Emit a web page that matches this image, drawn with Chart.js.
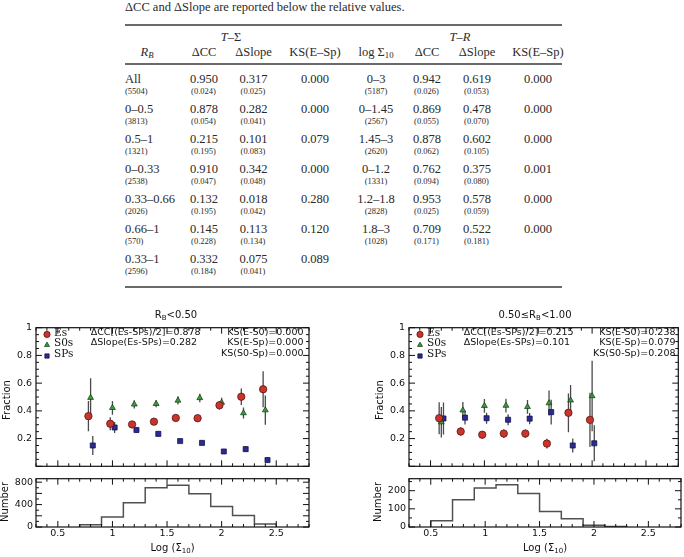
<!DOCTYPE html>
<html>
<head>
<meta charset="utf-8">
<script src="https://cdn.jsdelivr.net/npm/chart.js@4.4.1/dist/chart.umd.min.js"></script>
<style>
  body { margin: 0; width: 684px; height: 557px; overflow: hidden; position: relative; background: #fff; color: #2a2a2a; font-family: 'Liberation Serif', serif; }
  .t { position: absolute; white-space: nowrap; line-height: 1; }
  .c { transform: translate(-50%, -50%); }
  .l { transform: translate(0, -50%); }
  .r { transform: translate(-100%, -50%); }
  .rot { transform: translate(-50%, -50%) rotate(-90deg); }
  .main { font-size: 12.5px; }
  .sub { font-size: 8.5px; }
  .fig { font-family: 'DejaVu Sans', sans-serif; color: #111; }
  .leg { font-family: 'DejaVu Serif', serif; color: #111; font-size: 10.5px; }
  sub { font-size: 70%; vertical-align: -0.25em; line-height: 0; }
  .rule { position: absolute; left: 125px; width: 437px; height: 1.6px; background: #6a6a6a; }
  canvas { position: absolute; }
</style>
</head>
<body>
<script>
// ---- table data ----
const tableGroups = ['<i>T</i>–Σ', '<i>T</i>–<i>R</i>'];
const tableHeads = ['<i>R<sub>B</sub></i>', 'ΔCC', 'ΔSlope', 'KS(E–Sp)', 'log Σ<sub>10</sub>', 'ΔCC', 'ΔSlope', 'KS(E–Sp)'];
const rbBins = ['All', '0–0.5', '0.5–1', '0–0.33', '0.33–0.66', '0.66–1', '0.33–1'];
const rbCounts = ['(5504)', '(3813)', '(1321)', '(2538)', '(2026)', '(570)', '(2596)'];
const sigCC = ['0.950', '0.878', '0.215', '0.910', '0.132', '0.145', '0.332'];
const sigCCErr = ['(0.024)', '(0.054)', '(0.195)', '(0.047)', '(0.195)', '(0.228)', '(0.184)'];
const sigSlope = ['0.317', '0.282', '0.101', '0.342', '0.018', '0.113', '0.075'];
const sigSlopeErr = ['(0.025)', '(0.041)', '(0.083)', '(0.048)', '(0.042)', '(0.134)', '(0.041)'];
const sigKS = ['0.000', '0.000', '0.079', '0.000', '0.280', '0.120', '0.089'];
const densBins = ['0–3', '0–1.45', '1.45–3', '0–1.2', '1.2–1.8', '1.8–3'];
const densCounts = ['(5187)', '(2567)', '(2620)', '(1331)', '(2828)', '(1028)'];
const rCC = ['0.942', '0.869', '0.878', '0.762', '0.953', '0.709'];
const rCCErr = ['(0.026)', '(0.055)', '(0.062)', '(0.094)', '(0.025)', '(0.171)'];
const rSlope = ['0.619', '0.478', '0.602', '0.375', '0.578', '0.522'];
const rSlopeErr = ['(0.053)', '(0.070)', '(0.105)', '(0.080)', '(0.059)', '(0.181)'];
const rKS = ['0.000', '0.000', '0.000', '0.001', '0.000', '0.000'];

// ---- figure data: R_B < 0.50 ----
const esXA = [0.78, 0.98, 1.18, 1.38, 1.58, 1.78, 1.98, 2.18, 2.38];
const esYA = [0.362, 0.307, 0.302, 0.322, 0.349, 0.347, 0.440, 0.502, 0.556];
const esEA = [0.110, 0.047, 0.025, 0.020, 0.020, 0.025, 0.030, 0.060, 0.130];
const s0XA = [0.80, 1.00, 1.20, 1.40, 1.60, 1.80, 2.00, 2.20, 2.40];
const s0YA = [0.495, 0.422, 0.447, 0.451, 0.475, 0.493, 0.460, 0.384, 0.405];
const s0EA = [0.140, 0.050, 0.030, 0.025, 0.030, 0.030, 0.035, 0.040, 0.105];
const spXA = [0.82, 1.02, 1.22, 1.42, 1.62, 1.82, 2.02, 2.22, 2.42];
const spYA = [0.150, 0.280, 0.262, 0.234, 0.182, 0.169, 0.107, 0.124, 0.045];
const spEA = [0.068, 0.040, 0.020, 0.015, 0.012, 0.012, 0.012, 0.020, 0.020];
const histEdgesA = [0.7, 0.9, 1.1, 1.3, 1.5, 1.7, 1.9, 2.1, 2.3, 2.5];
const histCountsA = [40, 180, 435, 700, 745, 595, 365, 205, 55];

// ---- figure data: 0.50 <= R_B < 1.00 ----
const esXB = [0.58, 0.78, 0.98, 1.18, 1.38, 1.58, 1.78, 1.98];
const esYB = [0.347, 0.251, 0.228, 0.236, 0.236, 0.164, 0.386, 0.335];
const esEB = [0.115, 0.030, 0.025, 0.030, 0.030, 0.035, 0.140, 0.195];
const s0XB = [0.60, 0.80, 1.00, 1.20, 1.40, 1.60, 1.80, 2.00];
const s0YB = [0.318, 0.404, 0.436, 0.438, 0.429, 0.456, 0.476, 0.507];
const s0EB = [0.110, 0.060, 0.050, 0.050, 0.050, 0.090, 0.110, 0.255];
const spXB = [0.62, 0.82, 1.02, 1.22, 1.42, 1.62, 1.82, 2.02];
const spYB = [0.345, 0.351, 0.347, 0.336, 0.344, 0.391, 0.150, 0.166];
const spEB = [0.115, 0.050, 0.040, 0.040, 0.040, 0.090, 0.050, 0.130];
const histEdgesB = [0.5, 0.7, 0.9, 1.1, 1.3, 1.5, 1.7, 1.9, 2.1, 2.3];
const histCountsB = [35, 150, 215, 232, 185, 85, 45, 10, 3];

const fracTicks = [0.2, 0.4, 0.6, 0.8, 1];
const logTicks = [0.5, 1, 1.5, 2, 2.5];
const numTicksA = [0, 200, 400, 600, 800];
const numTicksB = [0, 100, 200];

// ---- helpers ----
function put(html, x, y, cls) {
  const d = document.createElement('div');
  d.className = 't ' + cls;
  d.style.left = x + 'px';
  d.style.top = y + 'px';
  d.innerHTML = html;
  document.body.appendChild(d);
  return d;
}
function rule(y) {
  const d = document.createElement('div');
  d.className = 'rule';
  d.style.top = (y - 0.8) + 'px';
  document.body.appendChild(d);
}

// ---- table ----
put('ΔCC and ΔSlope are reported below the relative values.', 125, 7, 'l main');
rule(25); rule(64); rule(287);
const colX = [147, 204, 253.5, 315, 376, 427, 477, 538];
put(tableGroups[0], 231, 37, 'c main');
put(tableGroups[1], 460, 37, 'c main');
tableHeads.forEach((h, i) => put(h, colX[i], 52, 'c main'));
rbBins.forEach((b, i) => {
  const y = 79 + 30 * i;
  put(b, 125, y, 'l main');
  put(rbCounts[i], 125, y + 12, 'l sub');
  put(sigCC[i], colX[1], y, 'c main');
  put(sigCCErr[i], colX[1] - 0.5, y + 12, 'c sub');
  put(sigSlope[i], colX[2], y, 'c main');
  put(sigSlopeErr[i], colX[2] - 0.5, y + 12, 'c sub');
  put(sigKS[i], colX[3], y, 'c main');
  if (i < densBins.length) {
    put(densBins[i], colX[4], y, 'c main');
    put(densCounts[i], colX[4], y + 12, 'c sub');
    put(rCC[i], colX[5], y, 'c main');
    put(rCCErr[i], colX[5] - 0.5, y + 12, 'c sub');
    put(rSlope[i], colX[6], y, 'c main');
    put(rSlopeErr[i], colX[6] - 0.5, y + 12, 'c sub');
    put(rKS[i], colX[7], y, 'c main');
  }
});

// ---- plugin: frame, inside ticks, error bars, legend symbols ----
const frameTicks = {
  id: 'frameTicks',
  beforeDatasetsDraw(chart) {
    const ctx = chart.ctx, ys = chart.scales.y;
    ctx.save();
    ctx.strokeStyle = '#4a4a4a';
    ctx.lineWidth = 1.3;
    ctx.beginPath();
    chart.data.datasets.forEach((ds, i) => {
      if (!ds.errs) return;
      chart.getDatasetMeta(i).data.forEach((pt, j) => {
        const v = ds.data[j].y, e = ds.errs[j];
        ctx.moveTo(pt.x, ys.getPixelForValue(v + e));
        ctx.lineTo(pt.x, ys.getPixelForValue(v - e));
      });
    });
    ctx.stroke();
    ctx.restore();
  },
  afterDraw(chart, args, o) {
    const ctx = chart.ctx, a = chart.chartArea, xs = chart.scales.x, ys = chart.scales.y;
    ctx.save();
    ctx.strokeStyle = '#111';
    ctx.lineWidth = 1.2;
    ctx.strokeRect(a.left, a.top, a.right - a.left, a.bottom - a.top);
    ctx.lineWidth = 1;
    ctx.beginPath();
    const isMajor = (v, m) => Math.abs(v / m - Math.round(v / m)) < 1e-6;
    for (let n = Math.ceil(xs.min / o.xMinor - 1e-6); n * o.xMinor <= xs.max + 1e-9; n++) {
      const v = n * o.xMinor, px = xs.getPixelForValue(v);
      const len = isMajor(v, o.xMajor) ? 6 : 3;
      ctx.moveTo(px, a.bottom); ctx.lineTo(px, a.bottom - len);
      ctx.moveTo(px, a.top); ctx.lineTo(px, a.top + len);
    }
    for (let n = Math.ceil(ys.min / o.yMinor - 1e-6); n * o.yMinor <= ys.max + 1e-9; n++) {
      const v = n * o.yMinor, py = ys.getPixelForValue(v);
      const len = isMajor(v, o.yMajor) ? 6 : 3;
      ctx.moveTo(a.left, py); ctx.lineTo(a.left + len, py);
      ctx.moveTo(a.right, py); ctx.lineTo(a.right - len, py);
    }
    ctx.stroke();
    if (o.legend) {
      const rows = [6.7, 17.3, 28.3];
      chart.data.datasets.forEach((ds, i) => {
        ctx.fillStyle = ds.backgroundColor;
        ctx.strokeStyle = ds.borderColor;
        ctx.lineWidth = ds.borderWidth;
        Chart.helpers.drawPoint(ctx, {
          pointStyle: ds.pointStyle, radius: ds.pointRadius * 0.85, rotation: 0, borderWidth: ds.borderWidth
        }, a.left + 11, a.top + rows[i]);
      });
    }
    ctx.restore();
  }
};

const fontTick = { family: 'DejaVu Sans', size: 9.5 };

function scatterChart(cx, cy, cw, ch, wy, pr, pt, es, s0, sp) {
  const cv = document.createElement('canvas');
  cv.width = cw; cv.height = ch;
  cv.style.left = cx + 'px'; cv.style.top = cy + 'px';
  document.body.appendChild(cv);
  const pts = (xs, ys) => xs.map((x, i) => ({ x: x, y: ys[i] }));
  return new Chart(cv, {
    type: 'scatter',
    data: {
      datasets: [
        { label: 'Es', data: pts(es[0], es[1]), errs: es[2], pointStyle: 'circle', pointRadius: 3.7,
          backgroundColor: '#c9352d', borderColor: '#4a0c08', borderWidth: 0.7 },
        { label: 'S0s', data: pts(s0[0], s0[1]), errs: s0[2], pointStyle: 'triangle', pointRadius: 3.4,
          backgroundColor: '#3b9a3b', borderColor: '#0f3a0f', borderWidth: 0.7 },
        { label: 'SPs', data: pts(sp[0], sp[1]), errs: sp[2], pointStyle: 'rect', pointRadius: 3.6,
          backgroundColor: '#2b2b92', borderColor: '#0c0c40', borderWidth: 0.7 }
      ]
    },
    options: {
      responsive: false, animation: false, devicePixelRatio: 1,
      layout: { padding: { left: 0, right: pr, top: pt, bottom: 0 } },
      plugins: {
        legend: { display: false }, tooltip: { enabled: false },
        frameTicks: { xMinor: 0.1, xMajor: 0.5, yMinor: 0.05, yMajor: 0.2, legend: true }
      },
      scales: {
        x: { type: 'linear', min: 0.3, max: 2.8, display: false },
        y: {
          type: 'linear', min: 0, max: 1,
          grid: { display: false, drawTicks: false }, border: { display: false },
          ticks: { font: fontTick, color: '#111', padding: 4, callback: v => v === 1 ? '1' : v.toFixed(1) },
          afterBuildTicks: s => { s.ticks = fracTicks.map(v => ({ value: v })); },
          afterFit: s => { s.width = wy; }
        }
      }
    },
    plugins: [frameTicks]
  });
}

function histChart(cx, cy, cw, ch, wy, pr, pt, hx, edges, counts, yMax, yTicks, yMinor, yMajor) {
  const cv = document.createElement('canvas');
  cv.width = cw; cv.height = ch;
  cv.style.left = cx + 'px'; cv.style.top = cy + 'px';
  document.body.appendChild(cv);
  // outline of the histogram: each count is flat from its left edge to its right edge
  const stepPts = [{ x: edges[0], y: 0 }];
  counts.forEach((c, i) => {
    stepPts.push({ x: edges[i], y: c });
    stepPts.push({ x: edges[i + 1], y: c });
  });
  stepPts.push({ x: edges[edges.length - 1], y: 0 });
  return new Chart(cv, {
    type: 'line',
    data: { datasets: [{ data: stepPts, borderColor: '#505050', borderWidth: 1.5, pointRadius: 0, fill: false, tension: 0 }] },
    options: {
      responsive: false, animation: false, devicePixelRatio: 1,
      layout: { padding: { left: 0, right: pr, top: pt, bottom: 0 } },
      plugins: {
        legend: { display: false }, tooltip: { enabled: false },
        frameTicks: { xMinor: 0.1, xMajor: 0.5, yMinor: yMinor, yMajor: yMajor }
      },
      scales: {
        x: {
          type: 'linear', min: 0.3, max: 2.8,
          grid: { display: false, drawTicks: false }, border: { display: false },
          ticks: { font: fontTick, color: '#111', padding: 1, maxRotation: 0, autoSkip: false, callback: v => String(v) },
          afterBuildTicks: s => { s.ticks = logTicks.map(v => ({ value: v })); },
          afterFit: s => { s.height = hx; }
        },
        y: {
          type: 'linear', min: 0, max: yMax,
          grid: { display: false, drawTicks: false }, border: { display: false },
          ticks: { font: fontTick, color: '#111', padding: 3, callback: v => String(v) },
          afterBuildTicks: s => { s.ticks = yTicks.map(v => ({ value: v })); },
          afterFit: s => { s.width = wy; }
        }
      }
    },
    plugins: [frameTicks]
  });
}

// left panel: plot area x 36..309, y 325..476 / 476..527
scatterChart(0, 318, 315, 158, 36, 6, 7, [esXA, esYA, esEA], [s0XA, s0YA, s0EA], [spXA, spYA, spEA]);
histChart(0, 470, 315, 87, 36, 6, 6, 30, histEdgesA, histCountsA, 862, numTicksA, 100, 200);
// right panel: plot area x 409..681
scatterChart(372, 318, 311, 158, 37, 2, 7, [esXB, esYB, esEB], [s0XB, s0YB, s0EB], [spXB, spYB, spEB]);
histChart(372, 470, 311, 87, 37, 2, 6, 30, histEdgesB, histCountsB, 266, numTicksB, 50, 100);

// ---- figure text ----
function panelText(left, right, title, titleX, cc, slope, ks) {
  put(title, titleX, 314.5, 'c fig').style.fontSize = '10px';
  put('Fraction', left - 29, 400, 'rot fig').style.fontSize = '10px';
  put('Number', left - 31, 502, 'rot fig').style.fontSize = '10px';
  put('Log (Σ<sub>10</sub>)', (left + right) / 2, 547.5, 'c fig').style.fontSize = '10px';
  const rows = [331.7, 342.3, 353.3];
  ['Es', 'S0s', 'SPs'].forEach((s, i) => put(s, left + 18, rows[i], 'l leg'));
  put('ΔCC[(Es-SPs)/2]=' + cc, left + 54.7, rows[0], 'l fig').style.fontSize = '9.5px';
  put('ΔSlope(Es-SPs)=' + slope, left + 54.7, rows[1], 'l fig').style.fontSize = '9.5px';
  ['KS(E-S0)=', 'KS(E-Sp)=', 'KS(S0-Sp)='].forEach((k, i) =>
    put(k + ks[i], right - 5.5, rows[i], 'r fig').style.fontSize = '9.5px');
}
panelText(36, 309, 'R<sub>B</sub>&lt;0.50', 176, '0.878', '0.282', ['0.000', '0.000', '0.000']);
panelText(409, 681, '0.50≤R<sub>B</sub>&lt;1.00', 535, '0.215', '0.101', ['0.238', '0.079', '0.208']);
</script>
</body>
</html>
